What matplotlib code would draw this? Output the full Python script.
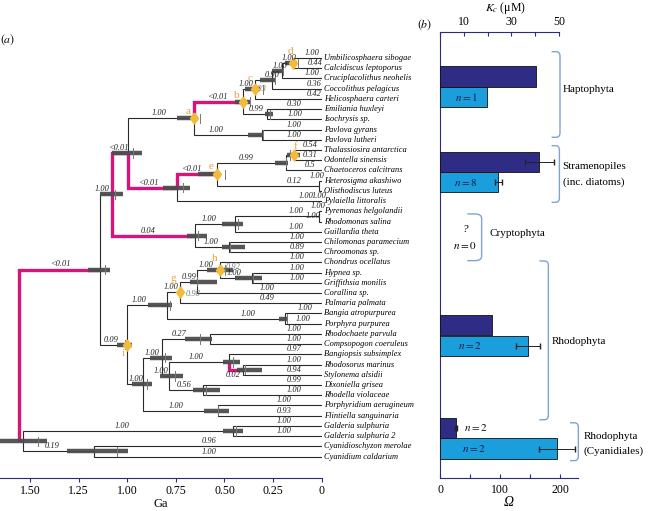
import matplotlib
matplotlib.use('Agg')
import matplotlib.pyplot as plt
from matplotlib.path import Path
from matplotlib.patches import PathPatch

plt.rcParams['font.family'] = ['Liberation Serif', 'DejaVu Serif']
plt.rcParams['mathtext.fontset'] = 'stix'

# ---------------- data: tree ----------------
leaves = ['Umbilicosphaera sibogae', 'Calcidiscus leptoporus', 'Cruciplacolithus neohelis',
          'Coccolithus pelagicus', 'Helicosphaera carteri', 'Emiliania huxleyi', 'Isochrysis sp.',
          'Pavlova gyrans', 'Pavlova lutheri', 'Thalassiosira antarctica', 'Odontella sinensis',
          'Chaetoceros calcitrans', 'Heterosigma akashiwo', 'Olisthodiscus luteus',
          'Pylaiella littoralis', 'Pyremonas helgolandii', 'Rhodomonas salina', 'Guillardia theta',
          'Chilomonas paramecium', 'Chroomonas sp.', 'Chondrus ocellatus', 'Hypnea sp.',
          'Griffithsia monilis', 'Corallina sp.', 'Palmaria palmata', 'Bangia atropurpurea',
          'Porphyra purpurea', 'Rhodochaete parvula', 'Compsopogon coeruleus',
          'Bangiopsis subsimplex', 'Rhodosorus marinus', 'Stylonema alsidii', 'Dixoniella grisea',
          'Rhodella violaceae', 'Porphyridium aerugineum', 'Flintiella sanguinaria',
          'Galderia sulphuria', 'Galderia sulphuria 2', 'Cyanidioschyzon merolae',
          'Cyanidium caldarium']
leaf_support = ['1.00', '0.44', '1.00', '0.36', '0.42', '0.30', '1.00', '1.00', '1.00', '0.54',
                '0.31', '0.5', '1.00', '1.00', '1.00', '1.00', '1.00', '1.00', '1.00', '0.89',
                '1.00', '1.00', '1.00', '1.00', '0.49', '1.00', '1.00', '1.00', '1.00', '0.97',
                '1.00', '0.94', '0.99', '1.00', '1.00', '0.93', '1.00', '1.00', '0.96', '1.00']

node_children = {
    'root': ['X', 'Cy'], 'Cy': ['GG', 'CC'],
    'GG': ['Galderia sulphuria', 'Galderia sulphuria 2'],
    'CC': ['Cyanidioschyzon merolae', 'Cyanidium caldarium'],
    'X': ['P1', 'i'], 'P1': ['HS', 'K'], 'HS': ['a', 'S'],
    'a': ['b', 'Pav'], 'b': ['c', 'EI'], 'c': ['N3', 'Helicosphaera carteri'],
    'N3': ['N2', 'Coccolithus pelagicus'], 'N2': ['d', 'Cruciplacolithus neohelis'],
    'd': ['Umbilicosphaera sibogae', 'Calcidiscus leptoporus'],
    'EI': ['Emiliania huxleyi', 'Isochrysis sp.'], 'Pav': ['Pavlova gyrans', 'Pavlova lutheri'],
    'S': ['e', 'Pylaiella littoralis'], 'e': ['Dia', 'HO'],
    'Dia': ['f', 'Chaetoceros calcitrans'], 'f': ['Thalassiosira antarctica', 'Odontella sinensis'],
    'HO': ['Heterosigma akashiwo', 'Olisthodiscus luteus'],
    'K': ['K1', 'K2'], 'K1': ['PR', 'Guillardia theta'],
    'PR': ['Pyremonas helgolandii', 'Rhodomonas salina'],
    'K2': ['Chilomonas paramecium', 'Chroomonas sp.'],
    'i': ['R1', 'R2'], 'R1': ['g', 'BP'], 'g': ['U', 'Palmaria palmata'],
    'U': ['h', 'Corallina sp.'], 'h': ['Chondrus ocellatus', 'HG'],
    'HG': ['Hypnea sp.', 'Griffithsia monilis'],
    'BP': ['Bangia atropurpurea', 'Porphyra purpurea'],
    'R2': ['R3', 'PF'], 'R3': ['RC', 'SD'],
    'RC': ['Rhodochaete parvula', 'Compsopogon coeruleus'],
    'SD': ['ST', 'DR'], 'ST': ['Bangiopsis subsimplex', 'RS'],
    'RS': ['Rhodosorus marinus', 'Stylonema alsidii'],
    'DR': ['Dixoniella grisea', 'Rhodella violaceae'],
    'PF': ['Porphyridium aerugineum', 'Flintiella sanguinaria'],
}
node_age = {'root': 1.557, 'Cy': 1.538, 'GG': 0.455, 'CC': 1.170, 'X': 1.140, 'P1': 1.079,
            'HS': 0.996, 'a': 0.655, 'b': 0.405, 'c': 0.343, 'N3': 0.256, 'N2': 0.204,
            'd': 0.148, 'EI': 0.283, 'Pav': 0.309, 'S': 0.746, 'e': 0.540, 'Dia': 0.184,
            'f': 0.142, 'HO': 0.014, 'K': 0.652, 'K1': 0.446, 'PR': 0.014, 'K2': 0.475,
            'i': 1.003, 'R1': 0.797, 'g': 0.729, 'U': 0.643, 'h': 0.523, 'HG': 0.360,
            'BP': 0.189, 'R2': 0.921, 'R3': 0.823, 'RC': 0.575, 'SD': 0.784, 'ST': 0.475,
            'RS': 0.406, 'DR': 0.609, 'PF': 0.532}
node_support = {'a': '1.00', 'b': '<0.01', 'c': '1.00', 'N3': '0.90', 'N2': '1.00', 'd': '1.00',
                'EI': '0.99', 'Pav': '1.00', 'HS': '<0.01', 'S': '<0.01', 'e': '<0.01',
                'Dia': '0.99', 'HO': '0.12', 'P1': '1.00', 'K': '0.04', 'K1': '1.00',
                'K2': '1.00', 'PR': '1.00', 'X': '<0.01', 'i': '0.09', 'R1': '1.00', 'g': '1.00',
                'U': '0.99', 'h': '1.00', 'HG': '1.00', 'BP': '1.00', 'R2': '1.00', 'R3': '1.00',
                'RC': '0.27', 'SD': '1.00', 'ST': '1.00', 'RS': '0.02', 'DR': '0.56',
                'PF': '1.00', 'GG': '1.00', 'CC': '0.19'}
# 95% HPD of node ages (old, young, median) in Ga
node_hpd = {'Cy': (1.655, 1.413, 1.461), 'X': (1.201, 1.089, 1.115), 'P1': (1.140, 1.022, 1.063),
            'HS': (1.080, 0.926, 0.971), 'a': (0.746, 0.643, 0.626), 'b': (0.446, 0.369, 0.369),
            'c': (0.395, 0.317, 0.302), 'N3': (0.317, 0.240, 0.240), 'N2': (0.256, 0.199, 0.201),
            'd': (0.189, 0.127, 0.122), 'EI': (0.292, 0.249, 0.266), 'Pav': (0.379, 0.302, 0.302),
            'S': (0.816, 0.678, 0.715), 'e': (0.636, 0.533, 0.497), 'Dia': (0.240, 0.173, 0.184),
            'f': (0.180, 0.112, 0.163), 'K': (0.694, 0.592, 0.636), 'K1': (0.514, 0.403, 0.431),
            'K2': (0.514, 0.395, 0.472), 'i': (1.055, 0.977, 1.012), 'R1': (0.894, 0.772, 0.780),
            'U': (0.677, 0.540, 0.641), 'h': (0.592, 0.455, 0.497), 'HG': (0.446, 0.309, 0.353),
            'BP': (0.220, 0.173, 0.178), 'R2': (0.977, 0.874, 0.899), 'R3': (0.883, 0.772, 0.806),
            'RC': (0.703, 0.566, 0.626), 'SD': (0.832, 0.712, 0.755), 'ST': (0.509, 0.420, 0.456),
            'RS': (0.437, 0.309, 0.395), 'DR': (0.660, 0.523, 0.595), 'PF': (0.605, 0.475, 0.533),
            'GG': (0.509, 0.403, 0.441), 'CC': (1.312, 0.995, 1.053)}
magenta_nodes = ['X', 'HS', 'S', 'e', 'b', 'K', 'RS']
marked_nodes = ['a', 'b', 'c', 'd', 'e', 'f', 'g', 'h', 'i']

# ---------------- data: bar panel ----------------
groups = ['Haptophyta', 'Stramenopiles', 'Rhodophyta', 'Rhodophyta (Cyanidiales)']
kc = [40.3, 41.7, 22.0, 6.7]
kc_err = [0.0, 6.0, 0.0, 0.5]
omega = [78.0, 97.0, 147.0, 194.5]
omega_err = [0.0, 5.5, 20.0, 30.0]
n_kc = [1, 4, 1, 2]
n_omega = [1, 8, 2, 2]

# ---------------- layout ----------------
leaf_label_x = [0.048, 0.034, 0.047, 0.04, 0.04, 0.142, 0.137, 0.14, 0.14, 0.06, 0.06, 0.06,
                0.024, 0.015, 0.08, 0.02, 0.044, 0.13, 0.127, 0.127, 0.127, 0.127, 0.127,
                0.279, 0.279, 0.086, 0.096, 0.142, 0.142, 0.142, 0.142, 0.142, 0.142, 0.142,
                0.194, 0.194, 0.194, 0.194, 0.58, 0.58]
node_label_x = {'a': 0.837, 'b': 0.536, 'c': 0.386, 'N3': 0.257, 'N2': 0.215, 'd': 0.168,
                'EI': 0.339, 'Pav': 0.545, 'HS': 1.046, 'S': 0.892, 'e': 0.669, 'Dia': 0.39,
                'HO': 0.142, 'P1': 1.128, 'K': 0.893, 'K1': 0.58, 'K2': 0.569, 'PR': 0.13,
                'X': 1.346, 'i': 1.084, 'R1': 0.94, 'g': 0.772, 'U': 0.683, 'h': 0.595,
                'HG': 0.451, 'BP': 0.379, 'R2': 0.955, 'R3': 0.87, 'RC': 0.734, 'SD': 0.823,
                'ST': 0.643, 'RS': 0.455, 'DR': 0.708, 'PF': 0.75, 'GG': 1.025, 'CC': 1.385}
letter_offset = {'a': (-6, -7), 'b': (-6, -6), 'c': (-5, -11), 'd': (-2, -12), 'e': (-6, -8),
                 'f': (1, -9), 'g': (-7, -14), 'h': (-5, -12), 'i': (-3, 9)}

W, H = 649, 511
BLACK = '#2a2a2a'
MAG = '#d6157a'
GREY = '#4d4d4d'
NAVY = '#2b2b7e'
DARK = '#2f2c85'
LIGHT = '#1a9fdc'
GOLD = '#f4bb3a'
ORANGE = '#e9a23b'
BRK = '#7fa4d4'

fig = plt.figure(figsize=(W / 100, H / 100), dpi=100)

def fy(py):
    return 1 - py / H

Y0, Y1 = -2.544, 41.10
ax = fig.add_axes([0, fy(478), 321.7 / W, (478 - 32) / H])
ax.set_xlim(1.654, 0)
ax.set_ylim(Y1, Y0)

leaf_index = {n: i for i, n in enumerate(leaves)}
ypos = {}

def get_y(n):
    if n in ypos:
        return ypos[n]
    if n in leaf_index:
        y = leaf_index[n]
    else:
        ch = node_children[n]
        y = (get_y(ch[0]) + get_y(ch[-1])) / 2
    ypos[n] = y
    return y

get_y('root')
ypos['root'] = ypos['Cy']

def age(n):
    return 0.0 if n in leaf_index else node_age[n]

for p, ch in node_children.items():
    for c in ch:
        mag = c in magenta_nodes
        ax.plot([age(p), age(p), age(c)], [ypos[p], ypos[c], ypos[c]],
                color=MAG if mag else BLACK, lw=2.4 if mag else 0.8,
                zorder=3 if mag else 2, solid_capstyle='butt', solid_joinstyle='miter')

for n, (o, yg, m) in node_hpd.items():
    y = ypos[n]
    ax.plot([o, yg], [y, y], color=GREY, lw=3.2, solid_capstyle='butt', zorder=4, alpha=0.95)
    ax.plot([m, m], [y - 0.45, y + 0.45], color='#777777', lw=0.7, zorder=4.5)

diamond = [(0, 1), (0.72, 0), (0, -1), (-0.72, 0), (0, 1)]
for n in marked_nodes:
    ax.plot(age(n), ypos[n], marker=diamond, ms=8, color=GOLD, mec=GOLD, zorder=6)
    dx, dy = letter_offset[n]
    ax.annotate(n, (age(n), ypos[n]), xytext=(dx * 0.72, -dy * 0.72), textcoords='offset points',
                ha='center', va='center', color=ORANGE, fontsize=8, zorder=7)

lab_kw = dict(fontsize=6, style='italic', color='#222222', ha='center', zorder=8)
for i, name in enumerate(leaves):
    ax.text(-0.012, i, name, fontsize=6, style='italic', va='center', ha='left', clip_on=False)
    if i == 13:
        ax.text(leaf_label_x[i], i + 0.12, leaf_support[i], va='top', **lab_kw)
    else:
        ax.text(leaf_label_x[i], i - 0.1, leaf_support[i], va='bottom', **lab_kw)
for n, s in node_support.items():
    if n == 'RS':
        ax.text(node_label_x[n], ypos[n] + 0.15, s, va='top', **lab_kw)
    else:
        ax.text(node_label_x[n], ypos[n] - 0.1, s, va='bottom', **lab_kw)
extra = [('0.93', 0.322, 3.06), ('0.98', 0.662, 23.1), ('0.92', 0.455, 20.5)]
for s, x, y in extra:
    ax.text(x, y, s, fontsize=6, style='italic', color='#777777', ha='center', va='center', zorder=5)

for sp in ['top', 'right', 'left']:
    ax.spines[sp].set_visible(False)
ax.spines['bottom'].set_color(NAVY)
ax.spines['bottom'].set_linewidth(0.8)
ax.set_yticks([])
ticks = [1.5, 1.25, 1.0, 0.75, 0.5, 0.25, 0.0]
ax.set_xticks(ticks)
ax.set_xticklabels(['1.50', '1.25', '1.00', '0.75', '0.50', '0.25', '0'])
ax.tick_params(axis='x', direction='out', length=3, width=0.8, color=NAVY, labelsize=8.5, pad=2)
ax.set_xlabel('Ga', fontsize=9, labelpad=1)
ax.patch.set_alpha(0)

# ---------------- bar panel ----------------
axb = fig.add_axes([440 / W, fy(478), 138 / W, (478 - 32) / H])
axb.set_xlim(0, 230)
axb.set_ylim(Y1, Y0)
axt = axb.twiny()
axt.set_xlim(0, 138 / 2.38)
axt.set_ylim(Y1, Y0)

dark_rows = [1.8, 10.15, 26.16, 36.2]
light_rows = [r + 2.02 for r in dark_rows]
bh = 1.98
axt.barh(dark_rows, kc, height=bh, color=DARK, edgecolor='#111111', lw=0.6, zorder=3)
axb.barh(light_rows, omega, height=bh, color=LIGHT, edgecolor='#111111', lw=0.6, zorder=3)
for r, v, e in zip(dark_rows, kc, kc_err):
    if e > 0:
        axt.errorbar(v, r, xerr=e, fmt='none', ecolor='#222222', elinewidth=0.7, capsize=2, zorder=4)
for r, v, e in zip(light_rows, omega, omega_err):
    if e > 0:
        axb.errorbar(v, r, xerr=e, fmt='none', ecolor='#222222', elinewidth=0.7, capsize=2, zorder=4)

n_x_dark = [43.3, 43.3, 50.0, 60.0]
n_x_light = [43.3, 43.3, 50.0, 56.7]
for k in range(4):
    axb.text(n_x_dark[k], dark_rows[k], r'$n = %d$' % n_kc[k], ha='center', va='center',
             fontsize=8, color='white' if k < 3 else '#111111', zorder=5)
    axb.text(n_x_light[k], light_rows[k], r'$n = %d$' % n_omega[k], ha='center', va='center',
             fontsize=8, color='#1a1a4a', zorder=5)
axb.text(41.7, 16.8, '?', ha='center', va='center', fontsize=8, style='italic')
axb.text(41.7, 18.3, r'$n = 0$', ha='center', va='center', fontsize=8)

def bracket(x0, x1, y0, y1):
    r = (x1 - x0) * 0.45
    ry = 0.45
    verts = [(x0, y0), (x1 - r, y0), (x1, y0), (x1, y0 + ry), (x1, y1 - ry), (x1, y1),
             (x1 - r, y1), (x0, y1)]
    codes = [Path.MOVETO, Path.LINETO, Path.CURVE3, Path.CURVE3, Path.LINETO, Path.CURVE3,
             Path.CURVE3, Path.LINETO]
    axb.add_patch(PathPatch(Path(verts, codes), fill=False, edgecolor=BRK, lw=1.0,
                            clip_on=False))

bracket(186, 200, -0.62, 7.76)
bracket(186, 199, 8.58, 14.12)
bracket(45.5, 69.4, 15.26, 19.83)
bracket(165.6, 180.6, 19.86, 35.4)
bracket(216.7, 230.6, 35.7, 39.4)
gk = dict(fontsize=8, ha='left', va='center', clip_on=False)
axb.text(204.5, 3.13, groups[0], **gk)
axb.text(204.5, 10.57, groups[1], **gk)
axb.text(204.5, 12.2, '(inc. diatoms)', **gk)
axb.text(83.3, 17.2, 'Cryptophyta', **gk)
axb.text(186.7, 27.7, groups[2], **gk)
axb.text(240, 37.05, 'Rhodophyta', **gk)
axb.text(240, 38.5, '(Cyanidiales)', **gk)

for sp in ['top', 'right']:
    axb.spines[sp].set_visible(False)
for sp in ['left', 'bottom']:
    axb.spines[sp].set_color(NAVY)
    axb.spines[sp].set_linewidth(0.8)
axb.set_yticks([])
axb.set_xticks([0, 50, 100, 150, 200])
axb.set_xticklabels(['0', '', '100', '', '200'])
axb.tick_params(axis='x', direction='in', length=3, width=0.8, color=NAVY, labelsize=8.5, pad=4)
axb.set_xlabel('Ω', fontsize=10, style='italic', labelpad=0)

for sp in ['bottom', 'right', 'left']:
    axt.spines[sp].set_visible(False)
axt.spines['top'].set_color(NAVY)
axt.spines['top'].set_linewidth(0.8)
axt.spines['top'].set_bounds(0, 50)
axt.set_xticks([0, 10, 20, 30, 40, 50])
axt.set_xticklabels(['', '10', '', '30', '', '50'])
axt.tick_params(axis='x', direction='in', length=3, width=0.8, color=NAVY, labelsize=8.5, pad=3)
axt.set_yticks([])
fig.text(505 / W, fy(8), r'$K_c$ (μM)', ha='center', va='center', fontsize=8.5)
fig.text(425 / W, fy(25), r'$(\mathit{b})$', ha='center', va='center', fontsize=8.5)
fig.text(8 / W, fy(40), r'$(\mathit{a})$', ha='center', va='center', fontsize=8.5)

fig.savefig('out.png', dpi=100)
